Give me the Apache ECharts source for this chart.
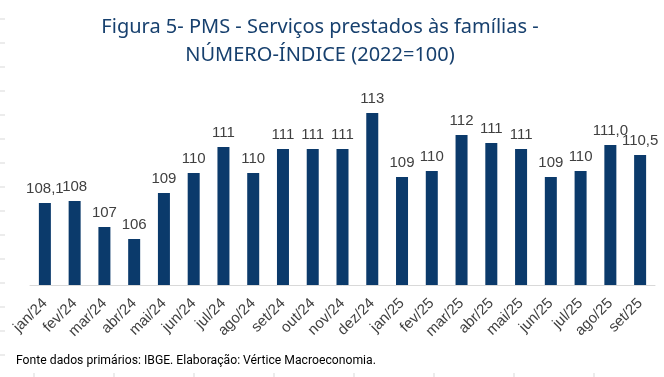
<!DOCTYPE html>
<html>
<head>
<meta charset="utf-8">
<script src="https://cdn.jsdelivr.net/npm/echarts@6/dist/echarts.min.js"></script>
<style>
  html, body { margin: 0; padding: 0; background: #fff; }
  #chart { width: 664px; height: 377px; }
</style>
</head>
<body>
<div id="chart"></div>
<script>
// dados do gráfico
var months = ['jan/24', 'fev/24', 'mar/24', 'abr/24', 'mai/24', 'jun/24', 'jul/24', 'ago/24', 'set/24', 'out/24', 'nov/24', 'dez/24',
  'jan/25', 'fev/25', 'mar/25', 'abr/25', 'mai/25', 'jun/25', 'jul/25', 'ago/25', 'set/25'];
var indexValues = [108.1, 108.2, 106.9, 106.3, 108.6, 109.6, 110.9, 109.6, 110.8, 110.8, 110.8, 112.6,
  109.4, 109.7, 111.5, 111.1, 110.8, 109.4, 109.7, 111.0, 110.5];
var valueLabels = ['108,1', '108', '107', '106', '109', '110', '111', '110', '111', '111', '111', '113',
  '109', '110', '112', '111', '111', '109', '110', '111,0', '110,5'];

var chart = echarts.init(document.getElementById('chart'));

// marcas cinzas da planilha ao fundo
var bgMarks = [];
for (var y = 19; y <= 360; y += 24) {
  bgMarks.push({ type: 'line', shape: { x1: 0, y1: y, x2: 5, y2: y }, style: { stroke: '#d9d9d9', lineWidth: 1 }, silent: true });
}
for (var x = 34; x < 664; x += 80) {
  bgMarks.push({ type: 'line', shape: { x1: x, y1: 373, x2: x, y2: 377 }, style: { stroke: '#d9d9d9', lineWidth: 1 }, silent: true });
}

var option = {
  animation: false,
  grid: { left: 30, right: 9, top: 85, bottom: 92 },
  xAxis: {
    type: 'category',
    data: months,
    axisLine: { lineStyle: { color: '#d9d9d9' } },
    axisTick: { length: 4, lineStyle: { color: '#d9d9d9' } },
    axisLabel: {
      rotate: 45,
      interval: 0,
      margin: 16,
      color: '#404040',
      fontFamily: 'Liberation Sans',
      fontSize: 15
    }
  },
  yAxis: {
    type: 'value',
    min: 104,
    max: 114,
    show: false
  },
  series: [{
    type: 'bar',
    data: indexValues,
    barWidth: 12,
    itemStyle: { color: '#0b3a6b' },
    label: {
      show: true,
      position: 'top',
      distance: 7,
      color: '#404040',
      fontFamily: 'Liberation Sans',
      fontSize: 15,
      formatter: function (p) { return valueLabels[p.dataIndex]; }
    }
  }],
  graphic: bgMarks.concat([{
    type: 'text',
    x: 320,
    y: 13,
    style: {
      text: 'Figura 5- PMS - Serviços prestados às famílias -\nNÚMERO-ÍNDICE (2022=100)',
      align: 'center',
      fontFamily: 'Noto Sans',
      fontSize: 20,
      lineHeight: 28,
      fill: '#17406e'
    }
  }, {
    type: 'text',
    left: 16,
    top: 355,
    style: {
      text: 'Fonte dados primários: IBGE. Elaboração: Vértice Macroeconomia.',
      fontFamily: 'Roboto',
      fontSize: 12.2,
      fill: '#000'
    }
  }])
};
chart.setOption(option);
</script>
</body>
</html>
